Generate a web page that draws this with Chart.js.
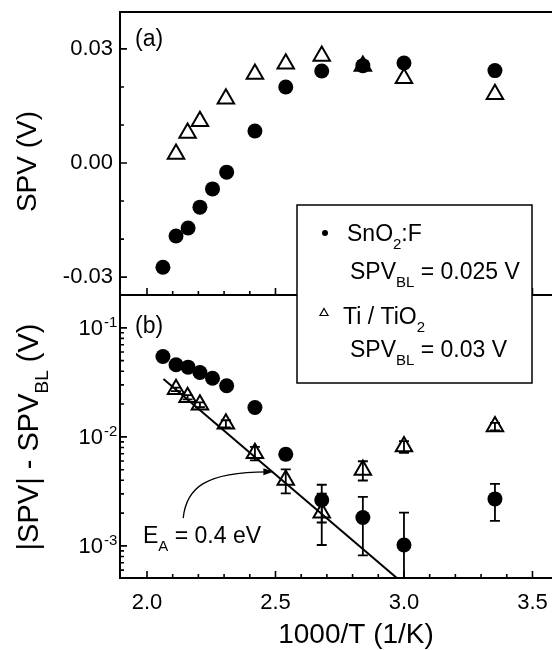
<!DOCTYPE html>
<html><head><meta charset="utf-8">
<script src="https://cdn.jsdelivr.net/npm/chart.js@4.4.1/dist/chart.umd.min.js"></script>
<style>html,body{margin:0;padding:0;background:#fff;}canvas{display:block;}</style>
</head><body>
<canvas id="c" width="552" height="650"></canvas>
<script>
// ---- data ----
const xSn   = [2.062, 2.113, 2.160, 2.206, 2.255, 2.310, 2.420, 2.540, 2.680, 2.840, 3.000, 3.354];
const spvSn = [-0.0274, -0.0192, -0.0171, -0.0116, -0.0068, -0.0024, 0.0084, 0.0200, 0.0242, 0.0256, 0.0263, 0.0243];
const difSn = [0.0546, 0.0458, 0.0436, 0.0389, 0.0345, 0.0294, 0.0186, 0.00693, 0.00264, 0.00182, 0.00102, 0.00270];
const errSn = [0.001, 0.001, 0.001, 0.001, 0.001, 0.001, 0.001, 0.0007, 0.001, 0.001, 0.001, 0.001];

const xTi   = [2.113, 2.158, 2.206, 2.307, 2.420, 2.540, 2.680, 2.840, 3.000, 3.354];
const spvTi = [0.0024, 0.0079, 0.0110, 0.0169, 0.0234, 0.0261, 0.0281, 0.0255, 0.0223, 0.0181];
const difTi = [0.0273, 0.0231, 0.0197, 0.0132, 0.00708, 0.00403, 0.00202, 0.00498, 0.00815, 0.01245];
const errTi = [0.001, 0.001, 0.001, 0.001, 0.001, 0.001, 0.001, 0.001, 0.001, 0.001];

const fitX = [2.064, 2.980];
const fitY = [0.0340, 0.00049];

// tick values / labels
const xTickValues = [2.0, 2.1, 2.2, 2.3, 2.4, 2.5, 2.6, 2.7, 2.8, 2.9, 3.0, 3.1, 3.2, 3.3, 3.4, 3.5];
const xTickLabels = ['2.0', '2.5', '3.0', '3.5'];
const yaTickValues = [-0.03, -0.02, -0.01, 0, 0.01, 0.02, 0.03];
const yaTickLabels = ['-0.03', '0.00', '0.03'];
const ybTickValues = [6e-4, 7e-4, 8e-4, 9e-4, 1e-3, 2e-3, 3e-3, 4e-3, 5e-3, 6e-3, 7e-3, 8e-3, 9e-3,
                      1e-2, 2e-2, 3e-2, 4e-2, 5e-2, 6e-2, 7e-2, 8e-2, 9e-2, 1e-1];
const ybLabelValues = [1e-1, 1e-2, 1e-3];
const ybLabelExps   = ['-1', '-2', '-3'];

// arrow annotation (data units): start, ctrl1, ctrl2, end
const arrowX = [2.141, 2.153, 2.227, 2.484];
const arrowY = [0.00180, 0.00340, 0.00478, 0.00478];

const FONT = '"Liberation Sans", Arial, Helvetica, sans-serif';

function rich(ctx, x, y, parts, size, draw) {
  let cx = x;
  for (const p of parts) {
    const sz = p.s ? Math.round(size * 0.66) : size;
    ctx.font = sz + 'px ' + FONT;
    const dy = p.s === 'sub' ? size * 0.36 : (p.s === 'sup' ? -size * 0.42 : 0);
    if (draw) ctx.fillText(p.t, cx, y + dy);
    cx += ctx.measureText(p.t).width;
  }
  return cx - x;
}

const decor = {
  id: 'decor',
  beforeDatasetsDraw(chart) {
    const ctx = chart.ctx, x = chart.scales.x, yb = chart.scales.yb;
    ctx.save();
    ctx.beginPath();
    ctx.rect(x.left, yb.top, x.right - x.left, yb.bottom - yb.top);
    ctx.clip();
    ctx.strokeStyle = '#000';
    ctx.lineWidth = 1.8;
    [[xSn, difSn, errSn], [xTi, difTi, errTi]].forEach(([xs, ys, es]) => {
      xs.forEach((xv, i) => {
        const px = x.getPixelForValue(xv);
        const hi = ys[i] + es[i], lo = ys[i] - es[i];
        const pT = yb.getPixelForValue(hi);
        const pB = lo > 0 ? yb.getPixelForValue(lo) : yb.bottom + 20;
        ctx.beginPath();
        ctx.moveTo(px, pT); ctx.lineTo(px, pB);
        ctx.moveTo(px - 5, pT); ctx.lineTo(px + 5, pT);
        ctx.moveTo(px - 5, pB); ctx.lineTo(px + 5, pB);
        ctx.stroke();
      });
    });
    ctx.restore();
  },
  afterDraw(chart) {
    const ctx = chart.ctx, ca = chart.chartArea;
    const x = chart.scales.x, ya = chart.scales.ya, yb = chart.scales.yb;
    ctx.save();
    ctx.strokeStyle = '#000';
    ctx.fillStyle = '#000';
    // frame
    ctx.lineWidth = 2;
    ctx.beginPath();
    ctx.moveTo(ca.left - 1, ya.top); ctx.lineTo(ca.right, ya.top);
    ctx.moveTo(ca.left - 1, ya.bottom); ctx.lineTo(ca.right, ya.bottom);
    ctx.moveTo(ca.left - 1, ca.bottom); ctx.lineTo(ca.right, ca.bottom);
    ctx.moveTo(ca.left, ya.top); ctx.lineTo(ca.left, ca.bottom);
    ctx.stroke();
    // ticks (inward)
    ctx.lineWidth = 1.6;
    ctx.beginPath();
    x.ticks.forEach(t => {
      const px = x.getPixelForValue(t.value);
      const len = xTickLabels.includes(t.value.toFixed(1)) ? 7 : 4;
      [ya.bottom, ca.bottom].forEach(yy => { ctx.moveTo(px, yy); ctx.lineTo(px, yy - len); });
    });
    ya.ticks.forEach(t => {
      const py = ya.getPixelForValue(t.value);
      const len = yaTickLabels.includes(t.value.toFixed(2)) ? 7 : 4;
      ctx.moveTo(ca.left, py); ctx.lineTo(ca.left + len, py);
    });
    yb.ticks.forEach(t => {
      const py = yb.getPixelForValue(t.value);
      const len = ybLabelValues.some(v => Math.abs(v - t.value) / v < 1e-6) ? 7 : 4;
      ctx.moveTo(ca.left, py); ctx.lineTo(ca.left + len, py);
    });
    ctx.stroke();
    // log tick labels 10^n
    ybLabelValues.forEach((v, i) => {
      const py = yb.getPixelForValue(v);
      ctx.font = '22px ' + FONT;
      ctx.textAlign = 'right';
      ctx.textBaseline = 'middle';
      ctx.fillText('10', 103, py + 1);
      ctx.textAlign = 'left';
      ctx.textBaseline = 'alphabetic';
      ctx.font = '15px ' + FONT;
      ctx.fillText(ybLabelExps[i], 104, py - 1);
    });
    // axis titles
    ctx.textAlign = 'left';
    ctx.textBaseline = 'alphabetic';
    ctx.font = '28px ' + FONT;
    ctx.save();
    ctx.translate(36, (ya.top + ya.bottom) / 2 + 8);
    ctx.rotate(-Math.PI / 2);
    ctx.textAlign = 'center';
    ctx.fillText('SPV (V)', 0, 0);
    ctx.restore();
    const tparts = [{t: '|SPV| - SPV'}, {t: 'BL', s: 'sub'}, {t: ' (V)'}];
    const tw = rich(ctx, 0, 0, tparts, 29, false);
    ctx.save();
    ctx.translate(38, 437 + tw / 2);
    ctx.rotate(-Math.PI / 2);
    rich(ctx, 0, 0, tparts, 29, true);
    ctx.restore();
    ctx.font = '28px ' + FONT;
    ctx.textAlign = 'center';
    ctx.fillText('1000/T (1/K)', 356, 643);
    // panel labels
    ctx.textAlign = 'left';
    ctx.textBaseline = 'middle';
    ctx.font = '23px ' + FONT;
    ctx.fillText('(a)', 135, 40);
    ctx.fillText('(b)', 135, 327);
    ctx.textBaseline = 'alphabetic';
    rich(ctx, 143, 543, [{t: 'E'}, {t: 'A', s: 'sub'}, {t: ' = 0.4 eV'}], 23, true);
    // arrow
    const ap = arrowX.map((v, i) => [x.getPixelForValue(v), yb.getPixelForValue(arrowY[i])]);
    ctx.lineWidth = 1.3;
    ctx.beginPath();
    ctx.moveTo(ap[0][0], ap[0][1]);
    ctx.bezierCurveTo(ap[1][0], ap[1][1], ap[2][0], ap[2][1], ap[3][0] - 4, ap[3][1]);
    ctx.stroke();
    ctx.beginPath();
    ctx.moveTo(ap[3][0] + 2, ap[3][1]);
    ctx.lineTo(ap[3][0] - 8, ap[3][1] - 3.5);
    ctx.lineTo(ap[3][0] - 8, ap[3][1] + 3.5);
    ctx.closePath();
    ctx.fill();
    // legend box
    ctx.fillStyle = '#fff';
    ctx.fillRect(297, 205, 235, 178);
    ctx.lineWidth = 1.5;
    ctx.strokeRect(297, 205, 235, 178);
    ctx.fillStyle = '#000';
    ctx.beginPath(); ctx.arc(325, 233, 3, 0, Math.PI * 2); ctx.fill();
    ctx.lineWidth = 1.2;
    ctx.beginPath();
    ctx.moveTo(324, 308.5); ctx.lineTo(328, 315.5); ctx.lineTo(320, 315.5); ctx.closePath();
    ctx.stroke();
    rich(ctx, 347, 241, [{t: 'SnO'}, {t: '2', s: 'sub'}, {t: ':F'}], 23, true);
    rich(ctx, 350, 279, [{t: 'SPV'}, {t: 'BL', s: 'sub'}, {t: ' = 0.025 V'}], 23, true);
    rich(ctx, 343, 324, [{t: 'Ti / TiO'}, {t: '2', s: 'sub'}], 23, true);
    rich(ctx, 350, 357, [{t: 'SPV'}, {t: 'BL', s: 'sub'}, {t: ' = 0.03 V'}], 23, true);
    ctx.restore();
  }
};

const pts = (xs, ys) => xs.map((v, i) => ({x: v, y: ys[i]}));
const noGrid = {display: false, drawTicks: false};
const fitY0 = s => { s.width = 120; s.paddingTop = 0; s.paddingBottom = 0; };

new Chart(document.getElementById('c'), {
  type: 'scatter',
  data: {
    datasets: [
      {label: 'SnO2:F', data: pts(xSn, spvSn), yAxisID: 'ya', pointStyle: 'circle', pointRadius: 7.5,
       backgroundColor: '#000', borderColor: '#000', borderWidth: 0},
      {label: 'Ti / TiO2', data: pts(xTi, spvTi), yAxisID: 'ya', pointStyle: 'triangle', pointRadius: 9.5,
       backgroundColor: 'rgba(0,0,0,0)', borderColor: '#000', borderWidth: 2},
      {label: 'SnO2:F (b)', data: pts(xSn, difSn), yAxisID: 'yb', pointStyle: 'circle', pointRadius: 7.5,
       backgroundColor: '#000', borderColor: '#000', borderWidth: 0},
      {label: 'Ti / TiO2 (b)', data: pts(xTi, difTi), yAxisID: 'yb', pointStyle: 'triangle', pointRadius: 9.5,
       backgroundColor: 'rgba(0,0,0,0)', borderColor: '#000', borderWidth: 2},
      {label: 'fit', data: pts(fitX, fitY), yAxisID: 'yb', showLine: true, pointRadius: 0,
       borderColor: '#000', borderWidth: 2, fill: false}
    ]
  },
  options: {
    responsive: false, animation: false, devicePixelRatio: 1, events: [],
    layout: {autoPadding: false, padding: {top: 12, left: 0, right: 0, bottom: 0}},
    plugins: {legend: {display: false}, tooltip: {enabled: false}},
    scales: {
      x: {
        type: 'linear', position: 'bottom', min: 1.895, max: 3.576,
        afterBuildTicks: s => { s.ticks = xTickValues.map(v => ({value: v})); },
        afterFit: s => { s.height = 72; s.paddingLeft = 0; s.paddingRight = 0; },
        ticks: {autoSkip: false, maxRotation: 0, padding: 12, color: '#000', font: {family: FONT, size: 22},
                callback: v => { const t = Number(v).toFixed(1); return xTickLabels.includes(t) ? t : ''; }},
        grid: noGrid, border: {display: false}
      },
      yb: {
        type: 'logarithmic', position: 'left', stack: 'v', stackWeight: 1, min: 5.08e-4, max: 0.2,
        afterBuildTicks: s => { s.ticks = ybTickValues.map(v => ({value: v})); },
        afterFit: fitY0,
        ticks: {autoSkip: false, callback: () => ''},
        grid: noGrid, border: {display: false}
      },
      ya: {
        type: 'linear', position: 'left', stack: 'v', stackWeight: 1, min: -0.0347, max: 0.0397,
        afterBuildTicks: s => { s.ticks = yaTickValues.map(v => ({value: v})); },
        afterFit: fitY0,
        ticks: {autoSkip: false, padding: 7, color: '#000', font: {family: FONT, size: 22},
                callback: v => { const t = Number(v).toFixed(2); return yaTickLabels.includes(t) ? t : ''; }},
        grid: noGrid, border: {display: false}
      }
    }
  },
  plugins: [decor]
});
</script>
</body></html>
